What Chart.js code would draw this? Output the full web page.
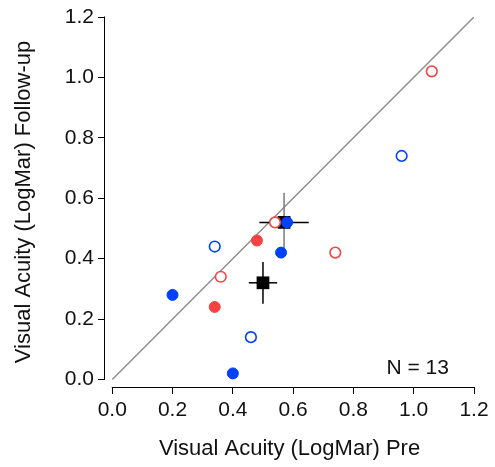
<!DOCTYPE html>
<html lang="en">
<head>
    <meta charset="UTF-8">
    <title>Visual Acuity</title>
    <script src="https://cdn.jsdelivr.net/npm/chart.js"></script>
    <style>
        body { margin: 0; background: #fff; }
        .grafico { width: 495px; height: 467px; }
    </style>
</head>
<body>
<div class="grafico">
    <canvas id="myChart"></canvas>
</div>

<script>
    // dados
    const redOpenX = [1.06, 0.54, 0.74, 0.36];
    const redOpenY = [1.02, 0.52, 0.42, 0.34];
    const redFillX = [0.48, 0.34];
    const redFillY = [0.46, 0.24];
    const blueOpenX = [0.96, 0.34, 0.46];
    const blueOpenY = [0.74, 0.44, 0.14];
    const blueFillX = [0.58, 0.56, 0.20, 0.40];
    const blueFillY = [0.52, 0.42, 0.28, 0.02];
    const meanX = [0.50, 0.57];
    const meanY = [0.32, 0.52];
    const errX = [0.047, 0.082];
    const errY = [0.069, 0.098];
    const tickValues = [0, 0.2, 0.4, 0.6, 0.8, 1.0, 1.2];
    const diagonal = [0, 1.2];
    const nLabel = 'N = 13';

    const RED = '#f84242';
    const BLUE = '#0041ff';
    const FONT = "'Liberation Sans', Arial, Helvetica, sans-serif";

    function pontos(xs, ys) {
        return xs.map((x, i) => ({ x: x, y: ys[i] }));
    }

    let datasets = [];

    // circulos (em cima)
    datasets.push({ data: pontos(blueFillX, blueFillY), pointStyle: 'circle', pointRadius: 5.5, pointBorderWidth: 1,
        pointBackgroundColor: BLUE, pointBorderColor: BLUE, showLine: false, order: 1 });
    datasets.push({ data: pontos(redFillX, redFillY), pointStyle: 'circle', pointRadius: 5.5, pointBorderWidth: 1,
        pointBackgroundColor: RED, pointBorderColor: RED, showLine: false, order: 1 });
    datasets.push({ data: pontos(blueOpenX, blueOpenY), pointStyle: 'circle', pointRadius: 5.3, pointBorderWidth: 1.6,
        pointBackgroundColor: '#fff', pointBorderColor: BLUE, showLine: false, order: 2 });
    datasets.push({ data: pontos(redOpenX, redOpenY), pointStyle: 'circle', pointRadius: 5.3, pointBorderWidth: 1.6,
        pointBackgroundColor: '#fff', pointBorderColor: RED, showLine: false, order: 2 });

    // medias
    datasets.push({ data: pontos(meanX, meanY), pointStyle: 'rect', pointRadius: 9, pointBorderWidth: 0,
        pointBackgroundColor: '#000', pointBorderColor: '#000', showLine: false, order: 3 });

    // barras de erro
    const corVertical = ['#000', '#7a7a7a'];
    for (let i = 0; i < meanX.length; i++) {
        datasets.push({ data: [{ x: meanX[i] - errX[i], y: meanY[i] }, { x: meanX[i] + errX[i], y: meanY[i] }],
            showLine: true, borderColor: '#000', borderWidth: 1.5, pointRadius: 0, order: 4 });
        datasets.push({ data: [{ x: meanX[i], y: meanY[i] - errY[i] }, { x: meanX[i], y: meanY[i] + errY[i] }],
            showLine: true, borderColor: corVertical[i], borderWidth: 1.5, pointRadius: 0, order: 4 });
    }

    // linha de identidade
    datasets.push({ data: pontos(diagonal, diagonal), showLine: true, borderColor: '#8e8e8e', borderWidth: 1.5,
        pointRadius: 0, order: 5 });

    const eixos = {
        id: 'eixos',
        afterDraw(chart) {
            const ctx = chart.ctx;
            const xs = chart.scales.x, ys = chart.scales.y;
            const area = chart.chartArea;
            ctx.save();
            ctx.strokeStyle = '#000';
            ctx.lineWidth = 1;
            ctx.beginPath();
            const yb = Math.round(area.bottom) + 0.5;
            ctx.moveTo(xs.getPixelForValue(0) - 0.5, yb);
            ctx.lineTo(xs.getPixelForValue(1.2) + 0.5, yb);
            const xl = Math.round(area.left) - 0.5;
            ctx.moveTo(xl, ys.getPixelForValue(0) + 0.5);
            ctx.lineTo(xl, ys.getPixelForValue(1.2) - 0.5);
            ctx.stroke();

            ctx.fillStyle = '#111';
            ctx.font = '21px ' + FONT;
            ctx.textAlign = 'right';
            ctx.textBaseline = 'alphabetic';
            ctx.fillText(nLabel, xs.getPixelForValue(1.117), ys.getPixelForValue(0.019));
            ctx.restore();
        }
    };

    function fixarTicks(scale) {
        scale.ticks = tickValues.map(v => ({ value: v }));
    }

    new Chart(document.getElementById('myChart'), {
        type: 'scatter',
        data: { datasets: datasets },
        options: {
            responsive: true,
            maintainAspectRatio: false,
            animation: false,
            layout: { padding: { top: 17, right: 21, left: 0, bottom: 0 } },
            plugins: { legend: { display: false }, tooltip: { enabled: false } },
            scales: {
                x: {
                    type: 'linear', min: -0.024, max: 1.2,
                    afterBuildTicks: fixarTicks,
                    afterFit(scale) { scale.height = 80; },
                    border: { display: false },
                    grid: { drawOnChartArea: false, drawTicks: true, tickLength: 7, color: '#000', lineWidth: 1 },
                    ticks: { color: '#111', font: { family: FONT, size: 21 }, padding: 4, maxRotation: 0,
                        callback: v => v.toFixed(1) },
                    title: { display: true, text: 'Visual Acuity (LogMar) Pre', color: '#111',
                        font: { family: FONT, size: 22 }, padding: { top: 0, bottom: 5 } }
                },
                y: {
                    type: 'linear', min: -0.025, max: 1.2,
                    afterBuildTicks: fixarTicks,
                    afterFit(scale) { scale.width = 105; },
                    border: { display: false },
                    grid: { drawOnChartArea: false, drawTicks: true, tickLength: 7, color: '#000', lineWidth: 1 },
                    ticks: { color: '#111', font: { family: FONT, size: 21 }, padding: 4,
                        callback: v => v.toFixed(1) },
                    title: { display: true, text: 'Visual Acuity (LogMar) Follow-up', color: '#111',
                        font: { family: FONT, size: 22 }, padding: { top: 11, bottom: 0 } }
                }
            }
        },
        plugins: [eixos]
    });
</script>
</body>
</html>
